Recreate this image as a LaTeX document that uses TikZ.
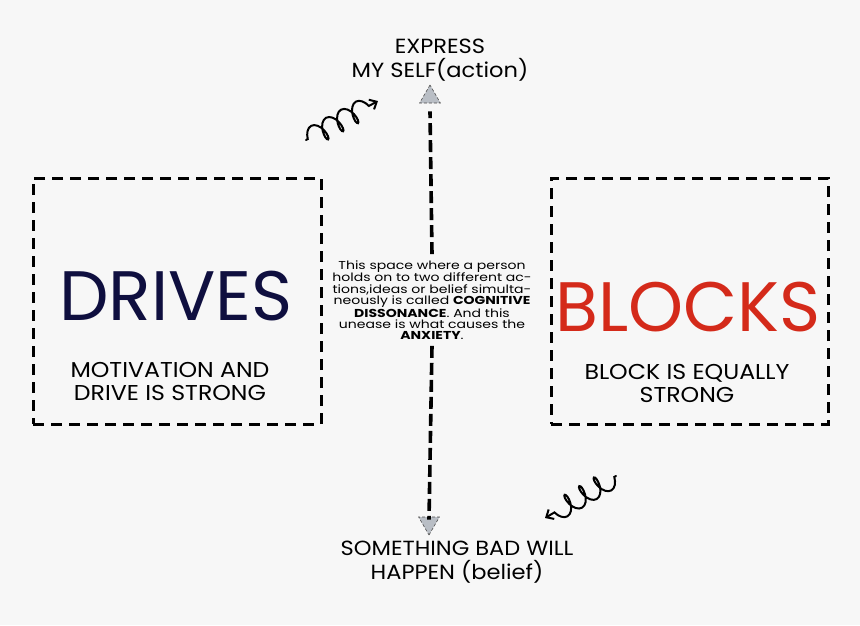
\documentclass[tikz,border=0pt]{standalone}
\usepackage{fontspec}
\setmainfont{Poppins}
\newfontfamily\widefont[FakeStretch=1.22]{Poppins}
\newfontfamily\semiwide[FakeStretch=1.1]{Poppins}
\usetikzlibrary{shapes.geometric,decorations.pathmorphing,arrows.meta}
\definecolor{bgc}{HTML}{F7F7F7}
\definecolor{navy}{HTML}{0F0F3F}
\definecolor{redc}{HTML}{D42A1A}
\definecolor{trig}{HTML}{B9BEC5}
\tikzset{
  box/.style={draw=black, line width=3pt, dash pattern=on 11pt off 7pt, minimum width=288pt, minimum height=246pt, inner sep=0pt},
  bigword/.style={font=\fontsize{70}{70}\selectfont, inner sep=0pt},
  sub/.style={font=\semiwide\fontsize{21.5}{23}\selectfont, align=center, inner sep=0pt},
  lab/.style={font=\semiwide\fontsize{20.5}{24}\selectfont, align=center, inner sep=0pt},
  midtxt/.style={font=\widefont\fontsize{11.5}{11.3}\selectfont, align=center, inner sep=2pt},
  trinode/.style={regular polygon, regular polygon sides=3, minimum size=24pt, inner sep=0pt, fill=trig, draw=black!70, densely dashed, line width=0.6pt},
  vline/.style={line width=3.6pt, dash pattern=on 12pt off 5pt},
  squig/.style={line width=2pt, -{Straight Barb[length=6pt,width=11pt]}, line cap=round,
    decorate, decoration={coil, amplitude=10pt, segment length=17pt, post length=8pt, pre length=2pt}}
}
\begin{document}
\begin{tikzpicture}[x=1pt,y=-1pt]
\fill[bgc] (0,0) rectangle (860,625);
\useasboundingbox (0,0) rectangle (860,625);

\node[box] (lbox) at (177,301) {};
\node[box, minimum width=277pt] (rbox) at (689.5,301) {};

\node[bigword, text=navy] (drives) at (176,296) {DRIVES};
\node[bigword, text=redc] (blocks) at (688,307) {BLOCKS};

\node[sub] (motiv) at (170,381) {MOTIVATION AND\\DRIVE IS STRONG};
\node[sub] (blocktxt) at (687,383) {BLOCK IS EQUALLY\\STRONG};

\node[lab] (express) at (440,60) {EXPRESS\\MY SELF(action)};
\node[lab] (bad) at (457,562) {SOMETHING BAD WILL\\HAPPEN (belief)};

\node[trinode] (tup) at (430,97) {};
\node[trinode, shape border rotate=180] (tdown) at (429,523) {};

\node[midtxt] (mid) at (432,300) {This space where a person\\holds on to two different ac-\\tions,ideas or belief simulta-\\neously is called \textbf{COGNITIVE}\\\textbf{DISSONANCE}. And this\\unease is what causes the\\\textbf{ANXIETY}.};

\draw[vline] ([yshift=4pt]mid.north) -- ([yshift=-8pt]tup.south);
\draw[vline] ([yshift=-4pt]mid.south) -- ([yshift=-3pt]tdown.north);

\coordinate (s1a) at (306,140);
\coordinate (s1b) at (378,101);
\coordinate (s2a) at (616,476);
\coordinate (s2b) at (545,518);
\draw[squig] (s1a) -- (s1b);
\draw[squig] (s2a) -- (s2b);
\end{tikzpicture}
\end{document}
